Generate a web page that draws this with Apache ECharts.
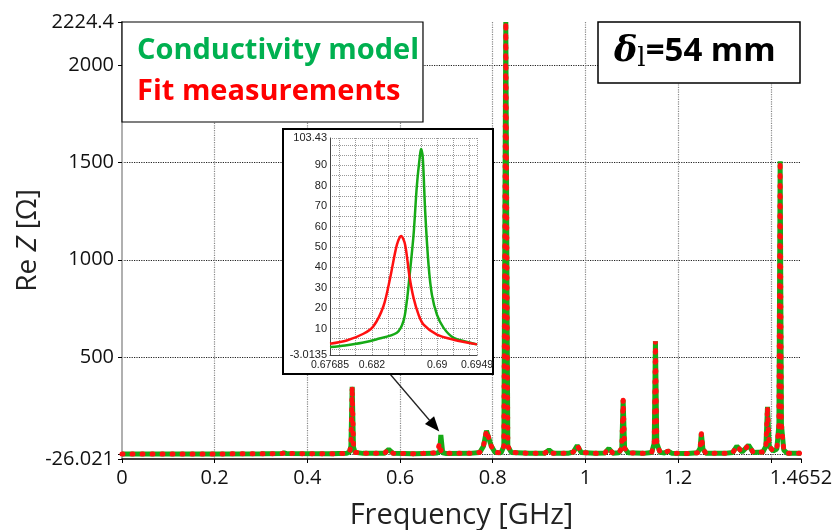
<!DOCTYPE html>
<html><head><meta charset="utf-8">
<script src="https://cdn.jsdelivr.net/npm/echarts@6/dist/echarts.min.js"></script>
<style>html,body{margin:0;padding:0;background:#fff}#c{width:834px;height:530px}</style>
</head><body><div id="c"></div>
<script>
// ---- main chart data (frequency in GHz, Re Z in Ohm) ----
const freqMain = [0,0.1,0.2,0.3,0.345,0.35,0.355,0.45,0.485,0.491,0.494,0.4967,0.4995,0.503,0.52,0.566,0.5755,0.585,0.63,0.672,0.680,0.6856,0.688,0.692,0.70,0.75,0.772,0.780,0.7865,0.7905,0.797,0.805,0.818,0.824,0.8282,0.8325,0.840,0.88,0.912,0.9214,0.930,0.962,0.974,0.9824,0.991,1.02,1.042,1.0506,1.059,1.072,1.0785,1.0814,1.0845,1.092,1.125,1.143,1.1485,1.1511,1.154,1.161,1.171,1.178,1.186,1.22,1.242,1.2475,1.2502,1.2535,1.260,1.30,1.318,1.3268,1.338,1.352,1.362,1.383,1.3895,1.3929,1.3965,1.405,1.413,1.4175,1.4202,1.423,1.428,1.436,1.4652];
const greenMain = [0,0,0,1,2,6,2,1,3,10,40,346,35,8,3,3,23,3,1,3,5,11,98,6,2,3,8,40,120,125,40,8,6,40,2224.4,40,8,3,4,20,4,3,10,43,8,3,5,28,4,6,30,279,30,6,3,8,55,580,55,8,5,15,4,2,6,30,105,25,4,3,8,40,10,45,8,10,40,242,40,15,25,150,1507,150,20,3,3];
const redMain   = [0,0,0,1,2,6,2,1,3,10,40,346,35,8,3,3,23,3,1,5,12,55,18,6,3,3,8,40,120,125,40,8,6,40,2224.4,40,8,3,4,20,4,3,10,43,8,3,5,28,4,6,30,279,30,6,3,8,55,580,55,8,5,15,4,2,6,30,105,25,4,3,8,40,10,45,8,10,40,242,40,15,25,150,1507,150,20,3,3];

// ---- inset data (zoom around 0.688 GHz) ----
const insetGreenFreq = [0.67685,0.6787,0.6808,0.6825,0.68506,0.68587,0.68628,0.68661,0.68711,0.68752,0.68793,0.68805,0.68825,0.68854,0.68895,0.68936,0.68998,0.6908,0.69203,0.69408,0.6949];
const insetGreen     = [0.9,1.7,3,4.6,7.9,13.6,23.3,35.5,55.9,80.2,96,98,93.3,67.2,41.2,26.6,16.8,10.3,5.4,3,2.2];
const insetRedFreq = [0.67685,0.6789,0.68095,0.68218,0.68341,0.68423,0.68506,0.68559,0.68608,0.68661,0.68711,0.68772,0.68834,0.68998,0.69203,0.6949];
const insetRed     = [2.5,4.1,7.4,11.1,20.9,34.7,51,55.4,51,35.5,25,16.8,11.9,7,4.5,2.2];

// axis extents / labels
const mainX = {min:0, max:1.4652, step:0.2};
const mainY = {min:-26.021, max:2224.4};
const insetX = {min:0.67685, max:0.6949, labels:[0.682, 0.69]};
const insetY = {min:-3.0135, max:103.43};

const GREEN = '#16aa16', RED = '#ff1010';
const pairs = (xs, ys) => xs.map((x,i)=>[x, ys[i]]);
const near = (a,b) => Math.abs(a-b) < 1e-7;

const chart = echarts.init(document.getElementById('c'), null, {renderer:'canvas'});
const option = {
  animation: false,
  backgroundColor: '#fff',
  textStyle: {fontFamily: 'Open Sans'},
  legend: {
    data: [
      {name:'Conductivity model', icon:'none', textStyle:{color:'#00b050'}},
      {name:'Fit measurements', icon:'none', textStyle:{color:'#ff0000'}}
    ],
    orient: 'vertical', left: 122, top: 22, z: 20,
    itemWidth: 0, itemHeight: 0, itemGap: 12,
    padding: [14, 4, 16, 10],
    backgroundColor: '#fff', borderColor: '#000', borderWidth: 1.2,
    selectedMode: false,
    textStyle: {fontFamily:'Open Sans', fontWeight:'bold', fontSize: 29}
  },
  grid: [
    {left:122, right:33, top:22, bottom:71, outerBoundsMode:'none'},
    {left:330, top:138, width:147, height:217, outerBoundsMode:'none', z: 11}
  ],
  xAxis: [
    {type:'value', gridIndex:0, min:mainX.min, max:mainX.max, interval:mainX.step,
     name:'Frequency [GHz]', nameLocation:'middle', nameGap:42, nameMoveOverlap:false,
     nameTextStyle:{fontFamily:'Open Sans', fontSize:29, color:'#222'},
     axisLine:{show:true, onZero:false, lineStyle:{color:'#000', width:1.5}},
     axisTick:{show:true, length:4, lineStyle:{color:'#000'}},
     axisLabel:{fontFamily:'Open Sans', fontSize:20, color:'#111', margin:9,
       formatter:v => near(v,1.4) ? '' : String(+v.toFixed(4))},
     splitLine:{show:true, showMinLine:false, showMaxLine:false, lineStyle:{color:'#888', type:'dotted', width:1.2}}
    },
    {type:'value', gridIndex:1, min:insetX.min, max:insetX.max, splitNumber:9, z:11,
     axisLine:{show:true, onZero:false, lineStyle:{color:'#444', width:1}},
     axisTick:{show:false},
     axisLabel:{fontFamily:'Liberation Sans', fontSize:10.5, color:'#222', margin:5, hideOverlap:false,
       formatter:v => {
         if (near(v,insetX.min)) return String(insetX.min);
         if (near(v,insetX.max)) return String(insetX.max);
         if (near(v,insetX.labels[0]) || near(v,insetX.labels[1])) return String(+v.toFixed(4));
         return '';
       }},
     splitLine:{show:true, lineStyle:{color:'#999', type:'dotted', width:1}}
    }
  ],
  yAxis: [
    {type:'value', gridIndex:0, min:mainY.min, max:mainY.max, splitNumber:5,
     name:'{a|Re }{z|Z}{a| [Ω]}', nameLocation:'middle', nameGap:80, nameRotate:90, nameMoveOverlap:false,
     nameTextStyle:{fontFamily:'Open Sans', fontSize:28, color:'#222',
       rich:{a:{fontFamily:'Open Sans', fontSize:28, color:'#222'}, z:{fontFamily:'Open Sans', fontStyle:'italic', fontSize:28, color:'#222'}}},
     axisLine:{show:true, onZero:false, lineStyle:{color:'#000', width:1.5}},
     axisTick:{show:true, length:4, lineStyle:{color:'#000'}},
     axisLabel:{fontFamily:'Open Sans', fontSize:20, color:'#111', margin:8,
       formatter:v => near(v,0) ? '' : String(v)},
     splitLine:{show:true, showMinLine:false, showMaxLine:false, lineStyle:{color:'#222', type:'dotted', width:1.2}}
    },
    {type:'value', gridIndex:0, position:'right', min:mainY.min, max:mainY.max,
     axisLine:{show:true, lineStyle:{color:'#b0b0b0', width:2}},
     axisTick:{show:false}, axisLabel:{show:false}, splitLine:{show:false}
    },
    {type:'value', gridIndex:1, min:insetY.min, max:insetY.max, splitNumber:20, z:11,
     axisLine:{show:true, onZero:false, lineStyle:{color:'#444', width:1}},
     axisTick:{show:false},
     axisLabel:{fontFamily:'Liberation Sans', fontSize:11, color:'#222', margin:3,
       formatter:v => {
         if (near(v,insetY.min) || near(v,insetY.max)) return String(v);
         const r = Math.round(v);
         return (r % 10 === 0 && r > 0 && r < 100) ? String(r) : '';
       }},
     splitLine:{show:true, lineStyle:{color:'#999', type:'dotted', width:1}}
    }
  ],
  series: [
    {name:'Conductivity model', type:'line', xAxisIndex:0, yAxisIndex:0, showSymbol:false,
     data:pairs(freqMain, greenMain), lineStyle:{color:GREEN, width:5}, itemStyle:{color:GREEN}, z:2},
    {name:'Fit measurements', type:'line', xAxisIndex:0, yAxisIndex:0, showSymbol:false,
     data:pairs(freqMain, redMain), lineStyle:{color:RED, width:5, type:[1,9], cap:'round'}, itemStyle:{color:RED}, z:3},
    {name:'Conductivity model', type:'line', xAxisIndex:1, yAxisIndex:2, showSymbol:false, smooth:0.3,
     data:pairs(insetGreenFreq, insetGreen), lineStyle:{color:GREEN, width:2.5}, itemStyle:{color:GREEN}, z:12},
    {name:'Fit measurements', type:'line', xAxisIndex:1, yAxisIndex:2, showSymbol:false, smooth:0.3,
     data:pairs(insetRedFreq, insetRed), lineStyle:{color:RED, width:2.5}, itemStyle:{color:RED}, z:12}
  ],
  graphic: [
    {type:'rect', id:'insetBox', z:10, shape:{x:283, y:129, width:210, height:245},
     style:{fill:'#fff', stroke:'#000', lineWidth:2}},
    {type:'rect', id:'deltaBox', z:20, shape:{x:598, y:22, width:202, height:61},
     style:{fill:'#fff', stroke:'#000', lineWidth:1.5}},
    {type:'text', id:'deltaText', z:21, x:614, y:52,
     style:{text:'{d|δ}{s|l}{t|=54 mm}', verticalAlign:'middle',
       rich:{
         d:{fontFamily:'DejaVu Serif', fontStyle:'italic', fontWeight:'bold', fontSize:35, lineHeight:40, fill:'#000'},
         s:{fontFamily:'DejaVu Serif', fontSize:26, lineHeight:28, verticalAlign:'bottom', fill:'#000'},
         t:{fontFamily:'Open Sans', fontWeight:'bold', fontSize:33, lineHeight:40, fill:'#000'}
       }}}
  ]
};
chart.setOption(option);

// arrow from inset to the small 0.688 GHz resonance in the main plot
const tip = chart.convertToPixel({xAxisIndex:0, yAxisIndex:0}, [0.6846, 115]);
const start = [390, 374];
const dx = tip[0]-start[0], dy = tip[1]-start[1], L = Math.hypot(dx,dy);
const ux = dx/L, uy = dy/L, hl = 15, hw = 6;
const base = [tip[0]-ux*hl, tip[1]-uy*hl];
chart.setOption({graphic: [
  {type:'line', id:'arrowLine', z:9, shape:{x1:start[0], y1:start[1], x2:base[0], y2:base[1]},
   style:{stroke:'#222', lineWidth:1.3}},
  {type:'polygon', id:'arrowHead', z:9, shape:{points:[tip, [base[0]-uy*hw, base[1]+ux*hw], [base[0]+uy*hw, base[1]-ux*hw]]},
   style:{fill:'#000'}}
]});
</script></body></html>
